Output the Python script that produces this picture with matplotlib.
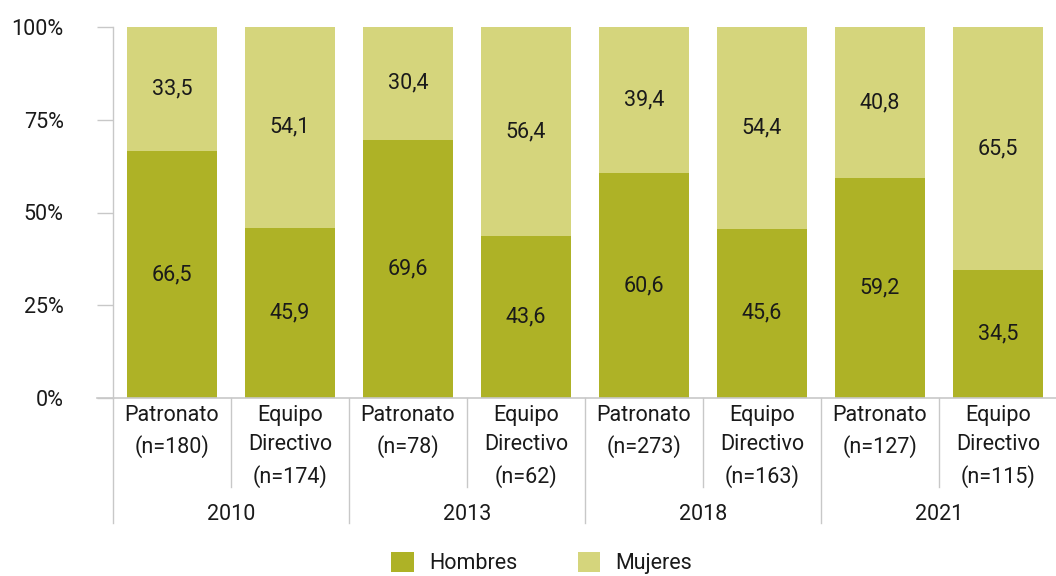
import matplotlib
matplotlib.use('Agg')
import matplotlib.pyplot as plt
from matplotlib.patches import Patch

plt.rcParams['font.family'] = ['Roboto', 'DejaVu Sans']

# data
YEARS = ['2010', '2013', '2018', '2021']
CATS = ['Patronato\n(n=180)', 'Equipo\nDirectivo\n(n=174)',
        'Patronato\n(n=78)', 'Equipo\nDirectivo\n(n=62)',
        'Patronato\n(n=273)', 'Equipo\nDirectivo\n(n=163)',
        'Patronato\n(n=127)', 'Equipo\nDirectivo\n(n=115)']
HOMBRES = [66.5, 45.9, 69.6, 43.6, 60.6, 45.6, 59.2, 34.5]
MUJERES = [33.5, 54.1, 30.4, 56.4, 39.4, 54.4, 40.8, 65.5]
Y_TICKS = [0, 25, 50, 75, 100]

C_H = '#AEB226'
C_M = '#D5D57C'
C_LINE = '#C8C8C8'
C_TXT = '#1a1a1a'
FS = 15.5

fig = plt.figure(figsize=(10.56, 5.76), dpi=100)
ax = fig.add_axes([113/1056, 178/576, 944/1056, 371/576])

x = list(range(len(CATS)))
ax.bar(x, HOMBRES, width=0.755, color=C_H, linewidth=0)
ax.bar(x, MUJERES, bottom=HOMBRES, width=0.755, color=C_M, linewidth=0)

def fmt(v):
    return f'{v:.1f}'.replace('.', ',')

for i in x:
    ax.text(i, HOMBRES[i] / 2, fmt(HOMBRES[i]), ha='center', va='center',
            fontsize=FS, color=C_TXT)
    ax.text(i, HOMBRES[i] + MUJERES[i] / 2, fmt(MUJERES[i]), ha='center',
            va='center', fontsize=FS, color=C_TXT)

ax.set_xlim(-0.5, len(CATS) - 0.5)
ax.set_ylim(0, 100)
ax.set_yticks(Y_TICKS)
ax.set_yticklabels([f'{t}%' for t in Y_TICKS], fontsize=FS, color=C_TXT)
ax.tick_params(axis='y', length=11.5, width=1, color=C_LINE, pad=24)
ax.set_xticks([])
for s in ['top', 'right', 'bottom']:
    ax.spines[s].set_visible(False)
ax.spines['left'].set_color(C_LINE)
ax.spines['left'].set_linewidth(1)

tr = ax.get_xaxis_transform()
# baseline
ax.plot([-0.636, len(CATS) - 0.5], [0, 0], transform=tr, color=C_LINE,
        lw=1.2, clip_on=False)
# separators
for k in range(len(CATS)):
    bottom = -0.337 if k % 2 == 0 else -0.240
    ax.plot([k - 0.5, k - 0.5], [0, bottom], transform=tr, color=C_LINE,
            lw=1, clip_on=False)

# category labels
for i, lab in enumerate(CATS):
    ax.text(i, -0.018, lab, transform=tr, ha='center', va='top',
            fontsize=FS, color=C_TXT, linespacing=1.55)

# year labels
for g, yr in enumerate(YEARS):
    ax.text(2 * g + 0.5, -0.315, yr, transform=tr, ha='center', va='center',
            fontsize=FS, color=C_TXT)

handles = [Patch(facecolor=C_H), Patch(facecolor=C_M)]
fig.legend(handles, ['Hombres', 'Mujeres'], loc='center',
           bbox_to_anchor=(0.513, 0.022), ncol=2, frameon=False,
           fontsize=FS, handlelength=1.05, handleheight=1.05,
           handletextpad=0.7, columnspacing=2.8, labelcolor=C_TXT,
           borderpad=0.1)

fig.savefig('out.png', dpi=100, facecolor='white')
